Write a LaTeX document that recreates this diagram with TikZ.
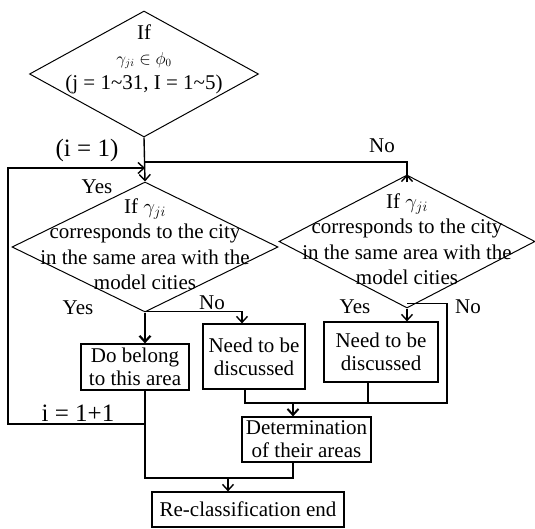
\documentclass[tikz,border=0pt]{standalone}
\usepackage{fontspec}
\setmainfont{Liberation Serif}
\usetikzlibrary{shapes.geometric,arrows.meta}
\begin{document}
\begin{tikzpicture}[x=1pt,y=-1pt,
  font=\fontsize{21}{23}\selectfont,
  dia/.style={diamond,draw,line width=1pt,inner sep=0pt},
  diatext/.style={align=center,inner sep=0pt,font=\fontsize{21}{25.5}\selectfont},
  box/.style={draw,line width=1.2pt,inner sep=0pt,align=center},
  conn/.style={line width=1.4pt},
  arr/.style={conn,-{Straight Barb[length=6pt,width=11pt]}},
  lbl/.style={inner sep=0pt},
  biglbl/.style={inner sep=0pt,font=\fontsize{25}{27}\selectfont}]
\useasboundingbox (0,0) rectangle (535,529);

% decisions
\node[dia,minimum width=229pt,minimum height=126pt] (d1) at (144,74) {};
\node[diatext,font=\fontsize{21}{25}\selectfont] (t1) at (144,59) {If\\{\fontsize{16}{16}\selectfont$\gamma_{ji}\in\phi_0$}\\(j = 1\textasciitilde31, I = 1\textasciitilde5)};
\node[dia,minimum width=266pt,minimum height=130pt] (d2) at (145,247) {};
\node[diatext] (t2) at (145,244) {If $\gamma_{ji}$\\corresponds to the city\\in the same area with the\\model cities};
\node[dia,minimum width=256pt,minimum height=133pt] (d3) at (407,241.5) {};
\node[diatext] (t3) at (407,239) {If $\gamma_{ji}$\\corresponds to the city\\in the same area with the\\model cities};

% boxes
\node[box,minimum width=108pt,minimum height=46pt] (belong) at (135,367) {Do belong\\to this area};
\node[box,minimum width=102pt,minimum height=65pt] (need1) at (254,356.5) {Need to be\\discussed};
\node[box,minimum width=114pt,minimum height=60pt] (need2) at (381,352) {Need to be\\discussed};
\node[box,minimum width=129pt,minimum height=45pt] (det) at (306.5,439.5) {Determination\\of their areas};
\node[box,minimum width=192pt,minimum height=35pt] (end) at (248,509.5) {Re-classification end};

% helper coordinates
\coordinate (nsplit) at (145,162);
\coordinate (L1) at (145,424);
\coordinate (L2) at (8,168);
\coordinate (m) at (293,403);
\coordinate (d3r) at (447,313);
\coordinate (j) at (145,478);
\coordinate (j2) at (228,478);

% connectors
\draw[arr] (d1.south) -- (d2.north);
\draw[conn] (nsplit) -| ([yshift=-7pt]d3.north);
\draw[arr] ([yshift=-8pt]d3.north) -- (d3.north);
\draw[arr] (L1) -| (L2) -- (L2 -| d2.north);
\draw[arr,line width=2.2pt] (d2.south) -- (d2.south |- belong.north);
\draw[arr] ([yshift=1pt]d2.south) -| ([xshift=-12pt]need1.north);
\draw[arr] (d3.south) -- (d3.south |- need2.north);
\draw[conn] ([yshift=5pt]d3.south) -| (d3r) |- (m);
\draw[conn] ([xshift=-9pt]need1.south) |- (m);
\draw[conn] ([xshift=-13pt]need2.south) |- (m);
\draw[arr,line width=2pt] (m) -- (m |- det.north);
\draw[conn] (belong.south -| j) -- (j) -- (j -| m) -- (m |- det.south);
\draw[arr] (j2) -- (j2 |- end.north);

% labels
\node[lbl] (lno1) at (382,146) {No};
\node[biglbl] (li1) at (87,150) {(i = 1)};
\node[lbl] (lyes1) at (97,187) {Yes};
\node[lbl] (lyes2) at (78,308) {Yes};
\node[lbl] (lno2) at (212,303) {No};
\node[lbl] (lyes3) at (355,307) {Yes};
\node[lbl] (lno3) at (468,307) {No};
\node[biglbl] (lii) at (78,413) {i = 1+1};
\end{tikzpicture}
\end{document}
